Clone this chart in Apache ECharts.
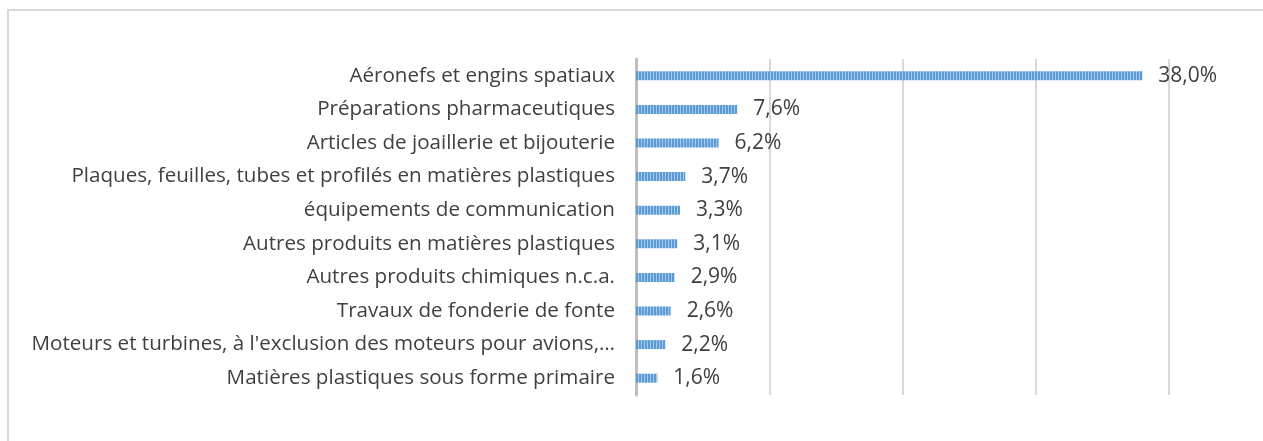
<!DOCTYPE html>
<html>
<head>
<meta charset="utf-8">
<script src="https://cdn.jsdelivr.net/npm/echarts@6/dist/echarts.min.js"></script>
<style>
  html, body { margin: 0; padding: 0; background: #fff; }
  #chart { width: 1263px; height: 441px; }
</style>
</head>
<body>
<div id="chart"></div>
<script>
// categories, top to bottom
const categories = [
  'Aéronefs et engins spatiaux',
  'Préparations pharmaceutiques',
  'Articles de joaillerie et bijouterie',
  'Plaques, feuilles, tubes et profilés en matières plastiques',
  'équipements de communication',
  'Autres produits en matières plastiques',
  'Autres produits chimiques n.c.a.',
  'Travaux de fonderie de fonte',
  "Moteurs et turbines, à l'exclusion des moteurs pour avions,…",
  'Matières plastiques sous forme primaire'
]
const shares = [38.0, 7.6, 6.2, 3.7, 3.3, 3.1, 2.9, 2.6, 2.2, 1.6]

// vertical stripe fill like the original
const stripe = document.createElement('canvas')
stripe.width = 3
stripe.height = 10
const sctx = stripe.getContext('2d')
sctx.fillStyle = '#5b9bd5'
sctx.fillRect(0, 0, 3, 10)
sctx.fillStyle = '#a9c9ea'
sctx.fillRect(2, 0, 1, 10)

const myChart = echarts.init(document.getElementById('chart'))
const font = '"Open Sans", sans-serif'

myChart.setOption({
  animation: false,
  graphic: [{
    type: 'rect',
    shape: { x: 8, y: 10, width: 1270, height: 450 },
    style: { fill: 'none', stroke: '#d9d9d9', lineWidth: 2 },
    silent: true
  }],
  grid: { left: 636, right: 94, top: 59, bottom: 46 },
  xAxis: {
    type: 'value',
    min: 0,
    max: 40,
    interval: 10,
    axisLabel: { show: false },
    axisLine: { show: false },
    axisTick: { show: false },
    splitLine: { lineStyle: { color: '#d9d9d9', width: 2 } }
  },
  yAxis: {
    type: 'category',
    inverse: true,
    data: categories,
    axisLine: { lineStyle: { color: '#bfbfbf', width: 3 } },
    axisTick: { show: false },
    axisLabel: { color: '#404040', fontSize: 20.6, fontFamily: font, margin: 21 }
  },
  series: [{
    type: 'bar',
    data: shares,
    barWidth: 9,
    itemStyle: { color: { image: stripe, repeat: 'repeat' } },
    label: {
      show: true,
      position: 'right',
      distance: 16,
      color: '#404040',
      fontSize: 21,
      fontFamily: font,
      formatter: p => p.value.toFixed(1).replace('.', ',') + '%'
    }
  }]
})
</script>
</body>
</html>
